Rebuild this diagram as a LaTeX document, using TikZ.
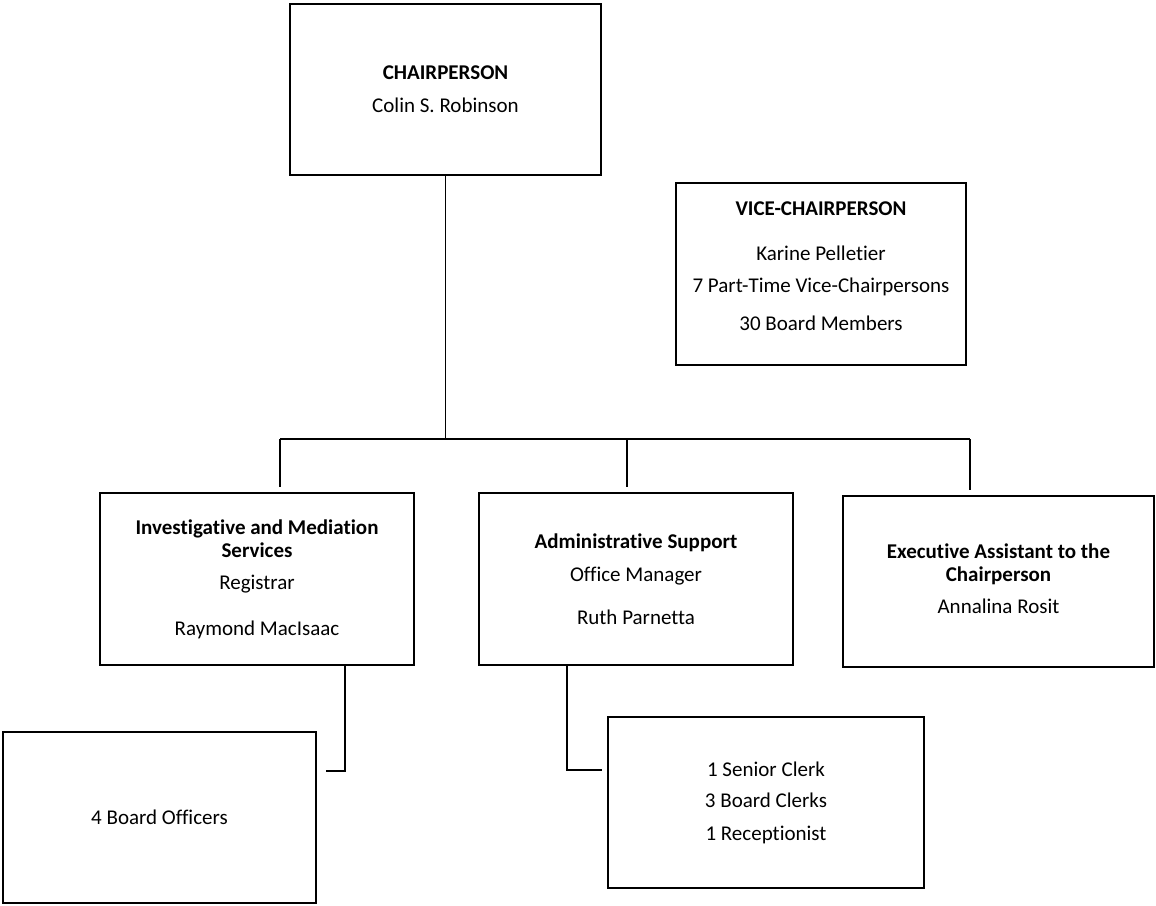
\documentclass[tikz,border=0pt]{standalone}
\usepackage{fontspec}
\setmainfont{Carlito}[Ligatures=NoCommon]

\tikzset{orgbox/.style={draw,line width=2.5pt,align=center,inner sep=0pt,font=\fontsize{21}{23}\selectfont},
         orgline/.style={line width=2.5pt}}
\newcommand{\orgunit}[5]{\node[orgbox,minimum width=#3,minimum height=#4] (#1) at (#2) {#5}}

\begin{document}
\begin{tikzpicture}[x=1pt,y=-1pt]
  \useasboundingbox (0,0) rectangle (1156,905);

  \orgunit{chair}{445.5,89.5}{311pt}{171pt}{\textbf{CHAIRPERSON}\\[10pt]Colin S. Robinson};
  \orgunit{vice}{821,274}{290pt}{182pt}{\textbf{VICE-CHAIRPERSON}\\[22pt]Karine Pelletier\\[9pt]7 Part-Time Vice-Chairpersons\\[15pt]30 Board Members\\[-7pt]};
  \orgunit{inv}{257,579}{314pt}{172pt}{\textbf{Investigative and Mediation}\\\textbf{Services}\\[9pt]Registrar\\[23pt]Raymond MacIsaac};
  \orgunit{admin}{636,579}{314pt}{172pt}{\textbf{Administrative Support}\\[10pt]Office Manager\\[20pt]Ruth Parnetta};
  \orgunit{exec}{998.5,581.5}{311pt}{171pt}{\textbf{Executive Assistant to the}\\\textbf{Chairperson}\\[9pt]Annalina Rosit\\[-17pt]};
  \orgunit{officers}{159.5,817.5}{313pt}{171pt}{4 Board Officers};
  \orgunit{clerks}{766,802.5}{316pt}{171pt}{1 Senior Clerk\\[8pt]3 Board Clerks\\[10pt]1 Receptionist};

  % bus under the chairperson
  \coordinate (busL) at (280,439);
  \coordinate (busM) at (627,439);
  \coordinate (busR) at (970,439);
  \draw[line width=1.3pt] (chair.south) -- (chair.south |- busL);
  \draw[orgline] (busL) -- (busR);
  \draw[orgline,shorten >=5pt] (busL) -- (busL |- inv.north);
  \draw[orgline,shorten >=5pt] (busM) -- (busM |- admin.north);
  \draw[orgline,shorten >=5pt] (busR) -- (busR |- exec.north);

  % staff under the units
  \draw[orgline] ([xshift=88pt]inv.south) |- ([xshift=9pt,yshift=46.5pt]officers.east);
  \draw[orgline] ([xshift=-69pt]admin.south) |- ([xshift=-5pt,yshift=32.5pt]clerks.west);
\end{tikzpicture}
\end{document}
